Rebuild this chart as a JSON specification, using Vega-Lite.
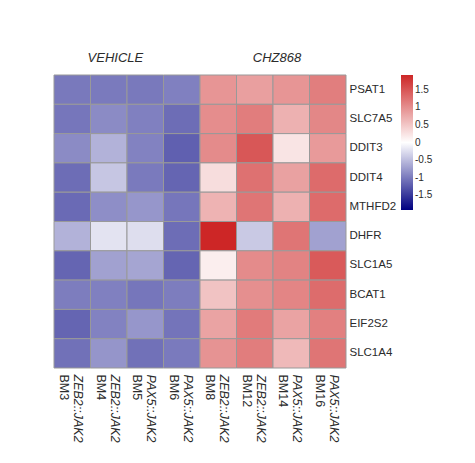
{
  "$schema": "https://vega.github.io/schema/vega-lite/v6.json",
  "width": 292,
  "height": 293,
  "padding": {"left": 53, "top": 51, "right": 5, "bottom": 5},
  "background": "white",
  "config": {"view": {"stroke": null}, "font": "Liberation Sans"},
  "data": {"values": [
    {"gene": "PSAT1", "col": "BM3 ZEB2::JAK2", "value": -1.01},
    {"gene": "PSAT1", "col": "BM4 ZEB2::JAK2", "value": -1.00},
    {"gene": "PSAT1", "col": "BM5 PAX5::JAK2", "value": -1.01},
    {"gene": "PSAT1", "col": "BM6 PAX5::JAK2", "value": -0.96},
    {"gene": "PSAT1", "col": "BM8 ZEB2::JAK2", "value": 0.94},
    {"gene": "PSAT1", "col": "BM12 ZEB2::JAK2", "value": 0.85},
    {"gene": "PSAT1", "col": "BM14 PAX5::JAK2", "value": 0.94},
    {"gene": "PSAT1", "col": "BM16 PAX5::JAK2", "value": 1.14},
    {"gene": "SLC7A5", "col": "BM3 ZEB2::JAK2", "value": -1.03},
    {"gene": "SLC7A5", "col": "BM4 ZEB2::JAK2", "value": -0.87},
    {"gene": "SLC7A5", "col": "BM5 PAX5::JAK2", "value": -0.96},
    {"gene": "SLC7A5", "col": "BM6 PAX5::JAK2", "value": -1.10},
    {"gene": "SLC7A5", "col": "BM8 ZEB2::JAK2", "value": 1.01},
    {"gene": "SLC7A5", "col": "BM12 ZEB2::JAK2", "value": 1.15},
    {"gene": "SLC7A5", "col": "BM14 PAX5::JAK2", "value": 0.69},
    {"gene": "SLC7A5", "col": "BM16 PAX5::JAK2", "value": 1.06},
    {"gene": "DDIT3", "col": "BM3 ZEB2::JAK2", "value": -0.87},
    {"gene": "DDIT3", "col": "BM4 ZEB2::JAK2", "value": -0.58},
    {"gene": "DDIT3", "col": "BM5 PAX5::JAK2", "value": -0.94},
    {"gene": "DDIT3", "col": "BM6 PAX5::JAK2", "value": -1.20},
    {"gene": "DDIT3", "col": "BM8 ZEB2::JAK2", "value": 1.03},
    {"gene": "DDIT3", "col": "BM12 ZEB2::JAK2", "value": 1.49},
    {"gene": "DDIT3", "col": "BM14 PAX5::JAK2", "value": 0.24},
    {"gene": "DDIT3", "col": "BM16 PAX5::JAK2", "value": 0.89},
    {"gene": "DDIT4", "col": "BM3 ZEB2::JAK2", "value": -1.10},
    {"gene": "DDIT4", "col": "BM4 ZEB2::JAK2", "value": -0.43},
    {"gene": "DDIT4", "col": "BM5 PAX5::JAK2", "value": -1.00},
    {"gene": "DDIT4", "col": "BM6 PAX5::JAK2", "value": -1.16},
    {"gene": "DDIT4", "col": "BM8 ZEB2::JAK2", "value": 0.30},
    {"gene": "DDIT4", "col": "BM12 ZEB2::JAK2", "value": 1.26},
    {"gene": "DDIT4", "col": "BM14 PAX5::JAK2", "value": 0.83},
    {"gene": "DDIT4", "col": "BM16 PAX5::JAK2", "value": 1.31},
    {"gene": "MTHFD2", "col": "BM3 ZEB2::JAK2", "value": -1.12},
    {"gene": "MTHFD2", "col": "BM4 ZEB2::JAK2", "value": -0.85},
    {"gene": "MTHFD2", "col": "BM5 PAX5::JAK2", "value": -0.79},
    {"gene": "MTHFD2", "col": "BM6 PAX5::JAK2", "value": -1.03},
    {"gene": "MTHFD2", "col": "BM8 ZEB2::JAK2", "value": 0.67},
    {"gene": "MTHFD2", "col": "BM12 ZEB2::JAK2", "value": 1.22},
    {"gene": "MTHFD2", "col": "BM14 PAX5::JAK2", "value": 0.69},
    {"gene": "MTHFD2", "col": "BM16 PAX5::JAK2", "value": 1.31},
    {"gene": "DHFR", "col": "BM3 ZEB2::JAK2", "value": -0.58},
    {"gene": "DHFR", "col": "BM4 ZEB2::JAK2", "value": -0.21},
    {"gene": "DHFR", "col": "BM5 PAX5::JAK2", "value": -0.25},
    {"gene": "DHFR", "col": "BM6 PAX5::JAK2", "value": -1.10},
    {"gene": "DHFR", "col": "BM8 ZEB2::JAK2", "value": 1.92},
    {"gene": "DHFR", "col": "BM12 ZEB2::JAK2", "value": -0.41},
    {"gene": "DHFR", "col": "BM14 PAX5::JAK2", "value": 1.22},
    {"gene": "DHFR", "col": "BM16 PAX5::JAK2", "value": -0.71},
    {"gene": "SLC1A5", "col": "BM3 ZEB2::JAK2", "value": -1.16},
    {"gene": "SLC1A5", "col": "BM4 ZEB2::JAK2", "value": -0.71},
    {"gene": "SLC1A5", "col": "BM5 PAX5::JAK2", "value": -0.68},
    {"gene": "SLC1A5", "col": "BM6 PAX5::JAK2", "value": -1.16},
    {"gene": "SLC1A5", "col": "BM8 ZEB2::JAK2", "value": 0.15},
    {"gene": "SLC1A5", "col": "BM12 ZEB2::JAK2", "value": 1.03},
    {"gene": "SLC1A5", "col": "BM14 PAX5::JAK2", "value": 1.10},
    {"gene": "SLC1A5", "col": "BM16 PAX5::JAK2", "value": 1.46},
    {"gene": "BCAT1", "col": "BM3 ZEB2::JAK2", "value": -0.98},
    {"gene": "BCAT1", "col": "BM4 ZEB2::JAK2", "value": -0.96},
    {"gene": "BCAT1", "col": "BM5 PAX5::JAK2", "value": -1.03},
    {"gene": "BCAT1", "col": "BM6 PAX5::JAK2", "value": -0.98},
    {"gene": "BCAT1", "col": "BM8 ZEB2::JAK2", "value": 0.53},
    {"gene": "BCAT1", "col": "BM12 ZEB2::JAK2", "value": 0.99},
    {"gene": "BCAT1", "col": "BM14 PAX5::JAK2", "value": 1.08},
    {"gene": "BCAT1", "col": "BM16 PAX5::JAK2", "value": 1.30},
    {"gene": "EIF2S2", "col": "BM3 ZEB2::JAK2", "value": -1.16},
    {"gene": "EIF2S2", "col": "BM4 ZEB2::JAK2", "value": -0.94},
    {"gene": "EIF2S2", "col": "BM5 PAX5::JAK2", "value": -0.79},
    {"gene": "EIF2S2", "col": "BM6 PAX5::JAK2", "value": -1.05},
    {"gene": "EIF2S2", "col": "BM8 ZEB2::JAK2", "value": 0.81},
    {"gene": "EIF2S2", "col": "BM12 ZEB2::JAK2", "value": 1.17},
    {"gene": "EIF2S2", "col": "BM14 PAX5::JAK2", "value": 0.81},
    {"gene": "EIF2S2", "col": "BM16 PAX5::JAK2", "value": 1.12},
    {"gene": "SLC1A4", "col": "BM3 ZEB2::JAK2", "value": -1.07},
    {"gene": "SLC1A4", "col": "BM4 ZEB2::JAK2", "value": -0.80},
    {"gene": "SLC1A4", "col": "BM5 PAX5::JAK2", "value": -1.07},
    {"gene": "SLC1A4", "col": "BM6 PAX5::JAK2", "value": -1.00},
    {"gene": "SLC1A4", "col": "BM8 ZEB2::JAK2", "value": 0.96},
    {"gene": "SLC1A4", "col": "BM12 ZEB2::JAK2", "value": 1.15},
    {"gene": "SLC1A4", "col": "BM14 PAX5::JAK2", "value": 0.62},
    {"gene": "SLC1A4", "col": "BM16 PAX5::JAK2", "value": 1.22}
  ]},
  "layer": [
    {
      "mark": {"type": "rect", "stroke": "#999999", "strokeWidth": 1},
      "encoding": {
        "x": {"field": "col", "type": "nominal", "sort": null,
          "scale": {"paddingInner": 0, "paddingOuter": 0},
          "axis": {"orient": "bottom", "title": null, "domain": false, "ticks": false,
            "labelAngle": 90, "labelAlign": "left", "labelBaseline": "middle",
            "labelPadding": 6, "labelFontSize": 12.5, "labelColor": "#2b2b2b",
            "labelOffset": -8, "labelExpr": "split(datum.value, ' ')[0]"}},
        "y": {"field": "gene", "type": "nominal", "sort": null,
          "scale": {"paddingInner": 0, "paddingOuter": 0},
          "axis": {"orient": "right", "title": null, "domain": false, "ticks": false,
            "labelPadding": 3, "labelFontSize": 11.5, "labelColor": "#2b2b2b"}},
        "color": {"field": "value", "type": "quantitative",
          "scale": {"domain": [-1.92, 0, 1.92], "range": ["#000080", "#ffffff", "#cd2626"], "interpolate": "rgb"},
          "legend": {"title": null, "gradientLength": 135, "gradientThickness": 12,
            "values": [1.5, 1, 0.5, 0, -0.5, -1, -1.5], "labelExpr": "'' + datum.value",
            "labelFontSize": 10, "labelColor": "#2b2b2b", "offset": 5,
            "gradientStrokeWidth": 0, "labelOverlap": false}}
      }
    },
    {
      "mark": {"type": "rect", "opacity": 0},
      "encoding": {
        "x": {"field": "col", "type": "nominal", "sort": null,
          "axis": {"orient": "bottom", "title": null, "domain": false, "ticks": false,
            "labelAngle": 90, "labelAlign": "left", "labelBaseline": "middle",
            "labelPadding": 6, "labelFontSize": 12.5, "labelColor": "#2b2b2b",
            "labelFontStyle": "italic",
            "labelOffset": 6, "labelExpr": "split(datum.value, ' ')[1]"}}
      }
    },
    {
      "mark": {"type": "rect", "opacity": 0},
      "encoding": {
        "x": {"field": "col", "type": "nominal", "sort": null,
          "axis": {"orient": "top", "title": null, "domain": false, "ticks": false,
            "labelAngle": 0, "labelPadding": 11, "labelFontSize": 13, "labelColor": "#2b2b2b",
            "labelFontStyle": "italic", "labelOffset": -2,
            "labelAlign": {"condition": {"test": "datum.value == 'BM5 PAX5::JAK2'", "value": "right"}, "value": "left"},
            "labelExpr": "datum.value == 'BM5 PAX5::JAK2' ? 'VEHICLE' : (datum.value == 'BM12 ZEB2::JAK2' ? 'CHZ868' : '')"}}
      }
    }
  ],
  "resolve": {"axis": {"x": "independent"}}
}
